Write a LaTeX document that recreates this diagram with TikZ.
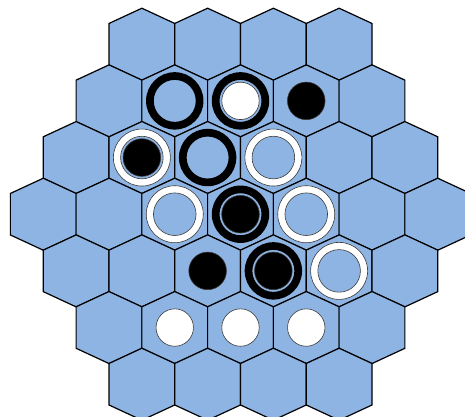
\documentclass[tikz,border=0pt]{standalone}
\usepackage{xcolor}
\usepackage{tikz}
\definecolor{boardblue}{HTML}{8EB4E3}
\definecolor{rimgray}{HTML}{3A3A3A}

% one board cell, centred at (#1,#2)
\newcommand{\hexcell}[2]{%
  \draw[cell] (#1,#2) +(0,-36) -- +(32.875,-20.75) -- +(32.875,20.75) -- +(0,36)
    -- +(-32.875,20.75) -- +(-32.875,-20.75) -- cycle;}

\begin{document}
\begin{tikzpicture}[
    x=1pt, y=-1pt,
    cell/.style={draw=black, fill=boardblue, line width=1.2pt, line join=miter},
    blackring/.style={fill=black, even odd rule},
    whitering/.style={fill=white, draw=rimgray, line width=0.6pt, even odd rule},
    blackdisc/.style={fill=black, draw=rimgray, line width=0.6pt},
    whitedisc/.style={fill=white, draw=rimgray, line width=0.6pt}
]
    \useasboundingbox (0,0) rectangle (465,416);
    \clip (0,0) rectangle (465,416);

    % Board
    \foreach \r in {0,...,6} {
        \pgfmathtruncatemacro{\n}{7-abs(\r-3)}
        \foreach \c in {1,...,\n} {
            \pgfmathsetmacro{\cx}{240.5+(2*\c-\n-1)*32.875}
            \pgfmathsetmacro{\cy}{44.2+\r*56.67}
            \hexcell{\cx}{\cy}
            \coordinate (h-\r-\c) at (\cx,\cy);
        }
    }

    % Rings
    \foreach \p in {h-1-2, h-1-3, h-2-3, h-3-4, h-4-4}
        \path[blackring] (\p) circle (28.7pt) (\p) circle (21pt);
    \foreach \p in {h-2-2, h-2-4, h-3-3, h-3-5, h-4-5}
        \path[whitering] (\p) circle (28.5pt) (\p) circle (21.3pt);

    % Discs
    \foreach \p in {h-1-4, h-2-2, h-3-4, h-4-3, h-4-4}
        \path[blackdisc] (\p) circle (18.8pt);
    \foreach \p in {h-1-3, h-5-2, h-5-3, h-5-4}
        \path[whitedisc] (\p) circle (18.7pt);
\end{tikzpicture}
\end{document}
